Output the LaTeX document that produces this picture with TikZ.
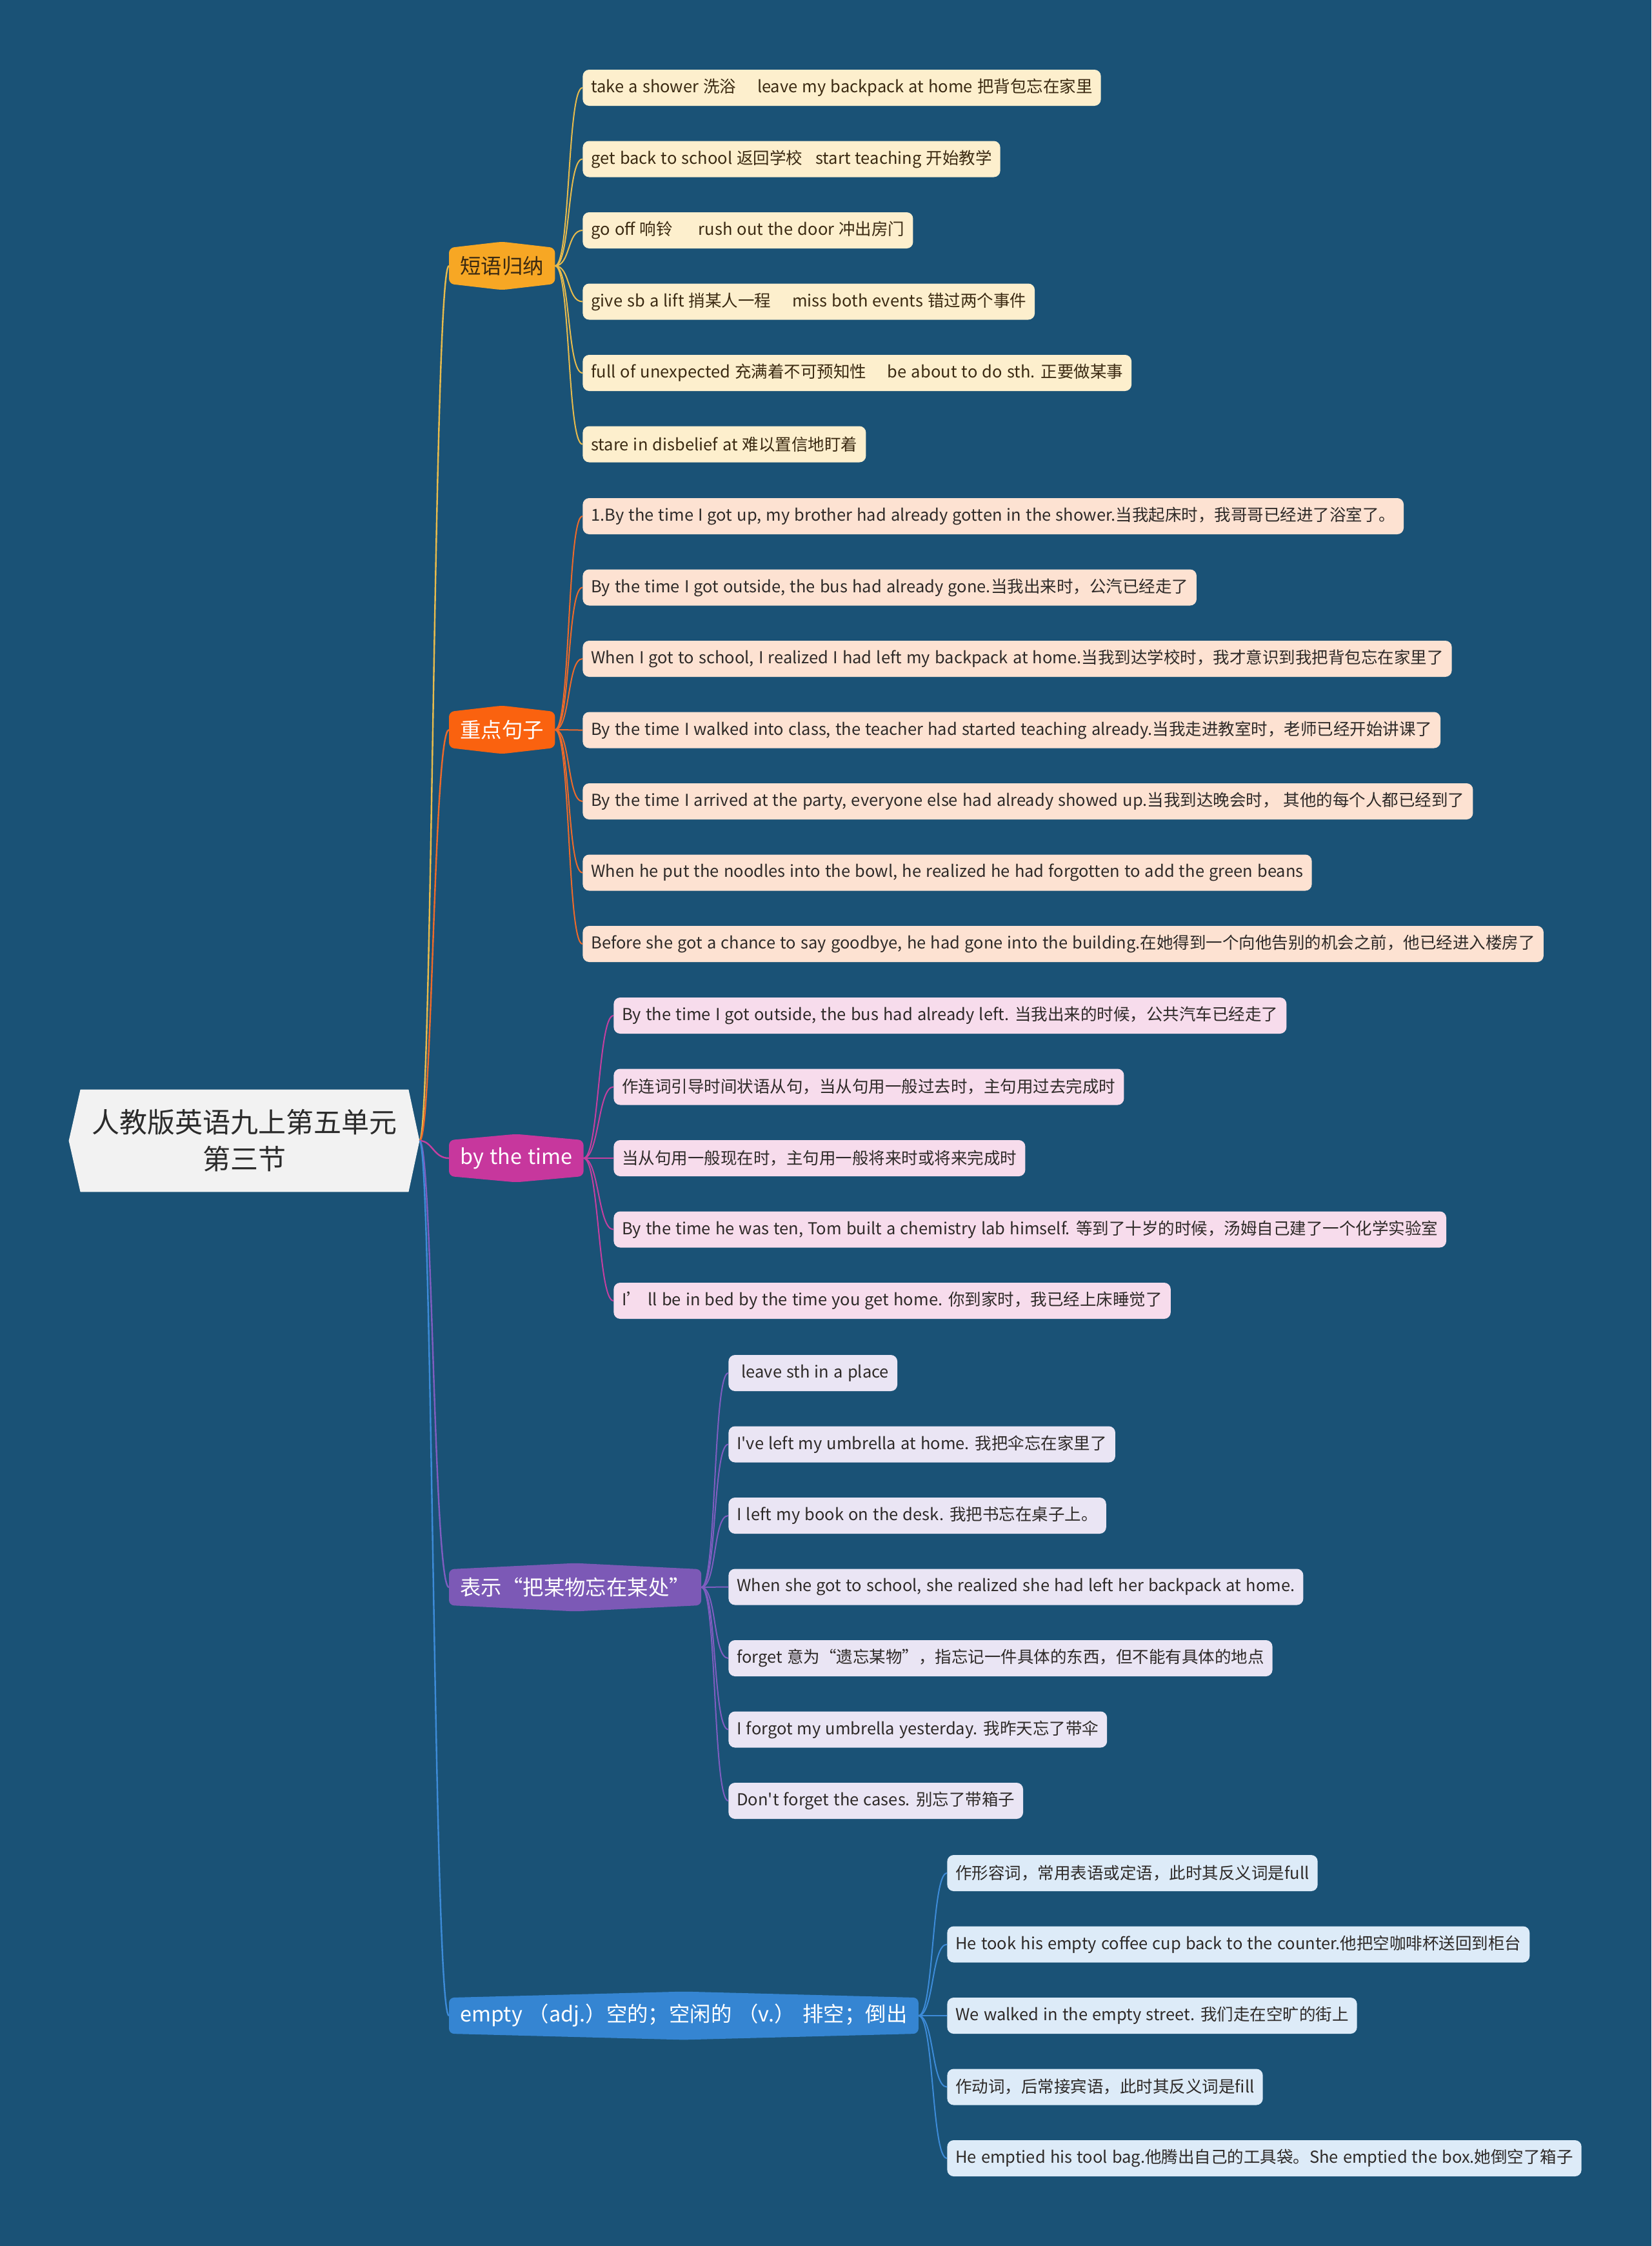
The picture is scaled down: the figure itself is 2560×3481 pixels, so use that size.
\documentclass[tikz,border=0pt]{standalone}
\usepackage{fontspec}
\setmainfont{Noto Sans CJK SC}[WordSpace=1.25]
\usetikzlibrary{backgrounds}
\definecolor{bgblue}{HTML}{1A5276}
\definecolor{rootfill}{HTML}{F2F2F2}
\definecolor{rootink}{HTML}{2B2B2B}
\definecolor{topica}{HTML}{F7A724}
\definecolor{topicb}{HTML}{FA620F}
\definecolor{topicc}{HTML}{C7379D}
\definecolor{topicd}{HTML}{7C59B6}
\definecolor{topice}{HTML}{3585D2}
\definecolor{fillsa}{HTML}{FDEFCD}
\definecolor{fillsb}{HTML}{FDE2D2}
\definecolor{fillsc}{HTML}{F7DCEC}
\definecolor{fillsd}{HTML}{EAE5F4}
\definecolor{fillse}{HTML}{DDEBF8}
\definecolor{linea}{HTML}{E8BB4C}
\definecolor{lineb}{HTML}{EE6A2A}
\definecolor{linec}{HTML}{C63FA0}
\definecolor{lined}{HTML}{7F5DC0}
\definecolor{linee}{HTML}{3D8BD8}
\definecolor{inka}{HTML}{3B2A12}
\definecolor{inkb}{HTML}{2E2A28}
\tikzset{
  leaf/.style={anchor=west, rounded corners=5pt, inner xsep=6.5pt, inner ysep=0pt,
    minimum height=28pt, font=\fontsize{12.75}{15}\selectfont, text=inkb},
  topic/.style={anchor=west, inner xsep=8.5pt, inner ysep=0pt, minimum height=27.5pt,
    font=\fontsize{16.2}{19}\selectfont, text=white},
  branch/.style={line width=1.2pt},
  twig/.style={line width=1pt}
}

\begin{document}
\begin{tikzpicture}[x=0.5pt,y=-0.5pt]
  \useasboundingbox (0,0) rectangle (2560,3481);
  % centre and main topics
  \node[align=center, text=rootink, minimum width=254pt, minimum height=79pt, inner sep=0pt,
    font=\fontsize{21.5}{28.5}\selectfont] (root) at (379,1768) {人教版英语九上第五单元\\第三节};
  \coordinate (tip) at ([xshift=8.5pt]root.east);
  \node[topic, text=inka] (g1) at (696,412) {短语归纳};
  \node[topic] (g2) at (696,1131) {重点句子};
  \node[topic] (g3) at (696,1795) {by the time};
  \node[topic] (g4) at (696,2460) {表示“把某物忘在某处”};
  \node[topic] (g5) at (696,3124) {empty （adj.）空的；空闲的 （v.） 排空；倒出};

  % leaves
  \foreach \txt [count=\i from 0] in {
    {take a shower 洗浴\quad\ leave my backpack at home 把背包忘在家里},
    {get back to school 返回学校\enspace\ start teaching 开始教学},
    {go off 响铃\quad\ \ rush out the door 冲出房门},
    {give sb a lift 捎某人一程\quad\ miss both events 错过两个事件},
    {full of unexpected 充满着不可预知性\quad\ be about to do sth. 正要做某事},
    {stare in disbelief at 难以置信地盯着}}
    \node[leaf, fill=fillsa, text=inka] (a\i) at (903,{136+110.5*\i}) {\txt};
  \foreach \txt [count=\i from 0] in {
    {1.By the time I got up, my brother had already gotten in the shower.当我起床时，我哥哥已经进了浴室了。},
    {By the time I got outside, the bus had already gone.当我出来时，公汽已经走了},
    {When I got to school, I realized I had left my backpack at home.当我到达学校时，我才意识到我把背包忘在家里了},
    {By the time I walked into class, the teacher had started teaching already.当我走进教室时，老师已经开始讲课了},
    {By the time I arrived at the party, everyone else had already showed up.当我到达晚会时， 其他的每个人都已经到了},
    {When he put the noodles into the bowl, he realized he had forgotten to add the green beans},
    {Before she got a chance to say goodbye, he had gone into the building.在她得到一个向他告别的机会之前，他已经进入楼房了}}
    \node[leaf, fill=fillsb] (b\i) at (903,{800+110.5*\i}) {\txt};
  \foreach \txt [count=\i from 0] in {
    {By the time I got outside, the bus had already left. 当我出来的时候，公共汽车已经走了},
    {作连词引导时间状语从句，当从句用一般过去时，主句用过去完成时},
    {当从句用一般现在时，主句用一般将来时或将来完成时},
    {By the time he was ten, Tom built a chemistry lab himself. 等到了十岁的时候，汤姆自己建了一个化学实验室},
    {I’ ll be in bed by the time you get home. 你到家时，我已经上床睡觉了}}
    \node[leaf, fill=fillsc] (c\i) at (951,{1574+110.5*\i}) {\txt};
  \foreach \txt [count=\i from 0] in {
    {\ leave sth in a place},
    {I\textquotesingle ve left my umbrella at home. 我把伞忘在家里了},
    {I left my book on the desk. 我把书忘在桌子上。},
    {When she got to school, she realized she had left her backpack at home.},
    {forget 意为“遗忘某物”，指忘记一件具体的东西，但不能有具体的地点},
    {I forgot my umbrella yesterday. 我昨天忘了带伞},
    {Don\textquotesingle t forget the cases. 别忘了带箱子}}
    \node[leaf, fill=fillsd] (d\i) at (1129,{2128+110.5*\i}) {\txt};
  \foreach \txt [count=\i from 0] in {
    {作形容词，常用表语或定语，此时其反义词是full},
    {He took his empty coffee cup back to the counter.他把空咖啡杯送回到柜台},
    {We walked in the empty street. 我们走在空旷的街上},
    {作动词，后常接宾语，此时其反义词是fill},
    {He emptied his tool bag.他腾出自己的工具袋。She emptied the box.她倒空了箱子}}
    \node[leaf, fill=fillse] (e\i) at (1468,{2903+110.5*\i}) {\txt};

  % connectors
  \foreach \g/\c in {g1/linea,g2/lineb,g3/linec,g4/lined,g5/linee}
    \draw[branch, \c] (tip) .. controls +(10pt,0) and +(-12pt,0) .. (\g.west);
  \foreach \i in {0,...,5}
    \draw[twig, linea] (g1.east) .. controls +(12pt,0) and +(-12pt,0) .. (a\i.west);
  \foreach \i in {0,...,6}
    \draw[twig, lineb] (g2.east) .. controls +(12pt,0) and +(-12pt,0) .. (b\i.west);
  \foreach \i in {0,...,4}
    \draw[twig, linec] (g3.east) .. controls +(12pt,0) and +(-12pt,0) .. (c\i.west);
  \foreach \i in {0,...,6}
    \draw[twig, lined] (g4.east) .. controls +(12pt,0) and +(-12pt,0) .. (d\i.west);
  \foreach \i in {0,...,4}
    \draw[twig, linee] (g5.east) .. controls +(12pt,0) and +(-12pt,0) .. (e\i.west);

  % shapes behind the texts
  \begin{pgfonlayer}{background}
    \fill[bgblue] (0,0) rectangle (2560,3481);
    \fill[rootfill] (root.north west) -- (root.north east) -- (tip) -- (root.south east)
      -- (root.south west) -- ([xshift=-9pt]root.west) -- cycle;
    \foreach \g/\c in {g1/topica,g2/topicb,g3/topicc,g4/topicd,g5/topice}
      \fill[\c, rounded corners=4pt] (\g.north west) -- ([yshift=4.75pt]\g.north)
        -- (\g.north east) -- (\g.south east) -- ([yshift=-4.75pt]\g.south)
        -- (\g.south west) -- cycle;
  \end{pgfonlayer}
\end{tikzpicture}
\end{document}
